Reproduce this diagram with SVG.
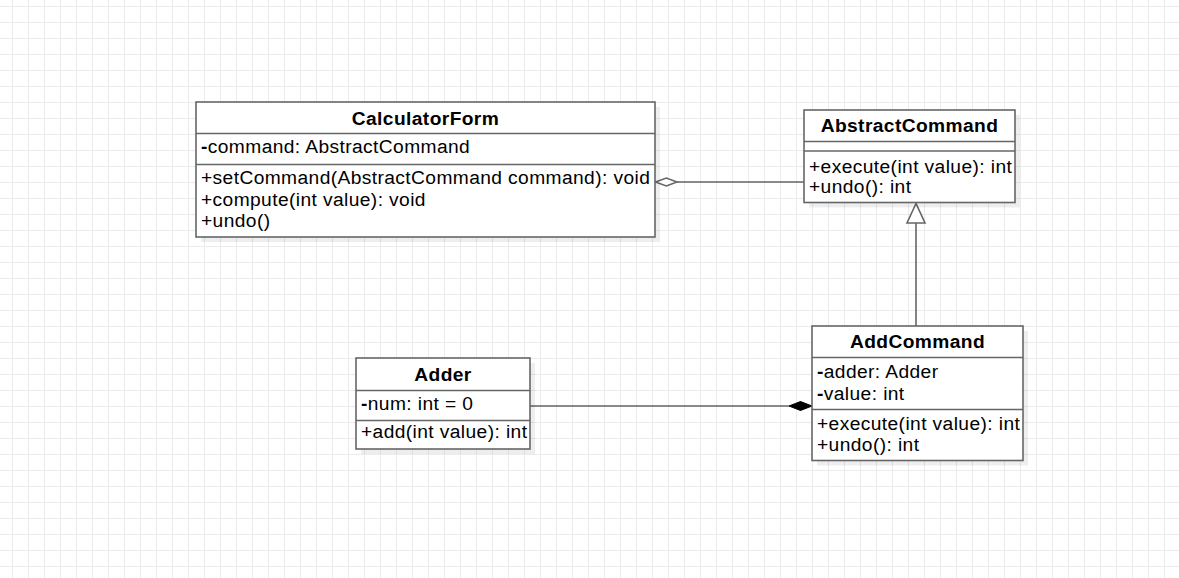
<svg xmlns="http://www.w3.org/2000/svg" width="1179" height="578" viewBox="0 0 1179 578">
<style>
.box{fill:#ffffff;stroke:#666666;stroke-width:1.6}
.sep{stroke:#666666;stroke-width:1.6;fill:none}
.shadow{fill:#000000;fill-opacity:0.065}
text{font-family:"Liberation Sans",Arial,sans-serif;font-size:19.2px;fill:#000000;letter-spacing:0.4px}
.title{font-weight:bold;text-anchor:middle}
.b{font-weight:bold}
.edge{stroke:#666666;stroke-width:1.6;fill:none}
</style>
<defs>
<pattern id="grid" patternUnits="userSpaceOnUse" x="12" y="6" width="16" height="16">
<path d="M0 0.5 H16 M0.5 0 V16" stroke="#ebebeb" stroke-width="1" fill="none"/>
</pattern>
</defs>
<rect x="0" y="0" width="1179" height="578" fill="#ffffff"/>
<rect x="0" y="0" width="1179" height="578" fill="url(#grid)"/>

<g id="connectors">
<line class="edge" x1="677" y1="182" x2="804" y2="182"/>
<polygon points="655.5,182 666.3,178 677,182 666.3,186" fill="#ffffff" stroke="#666666" stroke-width="1.6"/>
<line class="edge" x1="916" y1="223" x2="916" y2="326"/>
<polygon points="916,203.5 907,223 925,223" fill="#ffffff" stroke="#666666" stroke-width="1.6"/>
<line class="edge" x1="530" y1="406" x2="789" y2="406"/>
<polygon points="789,406 800.5,401.5 812,406 800.5,410.5" fill="#000000" stroke="#000000" stroke-width="1"/>
</g>

<g id="CalculatorForm">
<rect class="shadow" x="201" y="107" width="459" height="135"/>
<rect class="box" x="196" y="102" width="459" height="135"/>
<line class="sep" x1="196" y1="133.5" x2="655" y2="133.5"/>
<line class="sep" x1="196" y1="164.5" x2="655" y2="164.5"/>
<text class="title" x="425.5" y="125">CalculatorForm</text>
<text x="201" y="153"><tspan class="b">-</tspan>command: AbstractCommand</text>
<text x="201" y="184">+setCommand(AbstractCommand command): void</text>
<text x="201" y="205.5">+compute(int value): void</text>
<text x="201" y="227">+undo()</text>
</g>

<g id="AbstractCommand">
<rect class="shadow" x="809" y="115" width="211" height="92.5"/>
<rect class="box" x="804" y="110" width="211" height="92.5"/>
<line class="sep" x1="804" y1="141.5" x2="1015" y2="141.5"/>
<line class="sep" x1="804" y1="151" x2="1015" y2="151"/>
<text class="title" x="909.5" y="132">AbstractCommand</text>
<text x="809" y="172.5">+execute(int value): int</text>
<text x="809" y="193">+undo(): int</text>
</g>

<g id="AddCommand">
<rect class="shadow" x="817" y="331" width="211" height="134.5"/>
<rect class="box" x="812" y="326" width="211" height="134.5"/>
<line class="sep" x1="812" y1="357.5" x2="1023" y2="357.5"/>
<line class="sep" x1="812" y1="409.5" x2="1023" y2="409.5"/>
<text class="title" x="917.5" y="348">AddCommand</text>
<text x="817" y="377.5"><tspan class="b">-</tspan>adder: Adder</text>
<text x="817" y="399.5"><tspan class="b">-</tspan>value: int</text>
<text x="817" y="429.5">+execute(int value): int</text>
<text x="817" y="451">+undo(): int</text>
</g>

<g id="Adder">
<rect class="shadow" x="361" y="363" width="174" height="91"/>
<rect class="box" x="356" y="358" width="174" height="91"/>
<line class="sep" x1="356" y1="390.5" x2="530" y2="390.5"/>
<line class="sep" x1="356" y1="420.5" x2="530" y2="420.5"/>
<text class="title" x="443" y="380.5">Adder</text>
<text x="361" y="410"><tspan class="b">-</tspan>num: int = 0</text>
<text x="361" y="437.5">+add(int value): int</text>
</g>
</svg>
